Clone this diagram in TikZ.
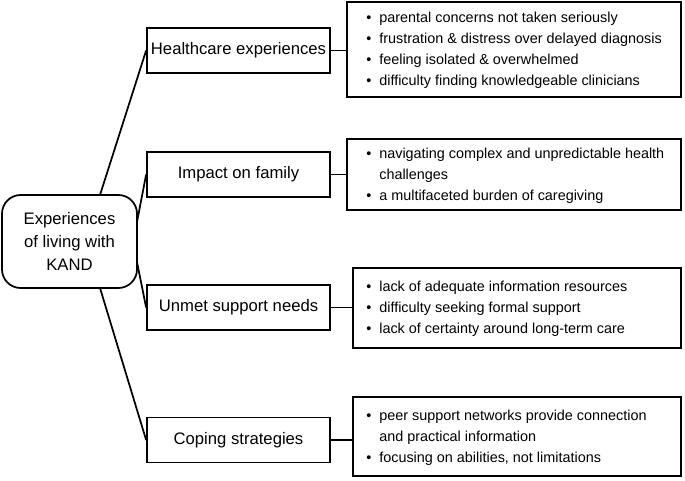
\documentclass[tikz,border=0pt]{standalone}
\usepackage{fontspec}
\setmainfont{Liberation Sans}
\begin{document}
\begin{tikzpicture}[x=0.75pt,y=-0.75pt,
  box/.style={draw,line width=1.3pt},
  cat/.style={box,minimum width=183*0.75pt,minimum height=45*0.75pt,font=\fontsize{12.5}{15}\selectfont,inner sep=0pt},
  ln/.style={line width=1.3pt}]
\useasboundingbox (0,0) rectangle (685,481);
\node[box,rounded corners=14pt,minimum width=135*0.75pt,minimum height=93*0.75pt,align=center,font=\fontsize{12.5}{17}\selectfont,inner sep=0pt] (root) at (69.5,241.5) {Experiences\\of living with\\KAND};
\node[cat] (c1) at (238.5,50.5) {Healthcare experiences};
\node[cat] (c2) at (238.5,174.5) {Impact on family};
\node[cat] (c3) at (238.5,307.5) {Unmet support needs};
\node[cat] (c4) at (238.5,440) {Coping strategies};
\newcommand{\lrow}[1]{\textbullet & #1\\}
\def\lfont{\fontsize{10.8}{15.8}\selectfont}
\draw[box] (347,2) rectangle (681,97);
\node[anchor=west,align=left,inner sep=0pt] (t1) at (366,50) {\lfont\begin{tabular}{@{}l@{\hspace{6pt}}l@{}}\lrow{parental concerns not taken seriously}\lrow{frustration \& distress over delayed diagnosis}\lrow{feeling isolated \& overwhelmed}\lrow{difficulty finding knowledgeable clinicians}\end{tabular}};
\draw[box] (347,139) rectangle (681,210);
\node[anchor=west,align=left,inner sep=0pt] (t2) at (366,175) {\lfont\begin{tabular}{@{}l@{\hspace{6pt}}l@{}}\lrow{navigating complex and unpredictable health}& challenges\\\lrow{a multifaceted burden of caregiving}\end{tabular}};
\draw[box] (353,268) rectangle (681,348);
\node[anchor=west,align=left,inner sep=0pt] (t3) at (366,308) {\lfont\begin{tabular}{@{}l@{\hspace{6pt}}l@{}}\lrow{lack of adequate information resources}\lrow{difficulty seeking formal support}\lrow{lack of certainty around long-term care}\end{tabular}};
\draw[box] (353,397) rectangle (681,476);
\node[anchor=west,align=left,inner sep=0pt] (t4) at (366,437) {\lfont\begin{tabular}{@{}l@{\hspace{6pt}}l@{}}\lrow{peer support networks provide connection}& and practical information\\\lrow{focusing on abilities, not limitations}\end{tabular}};
\coordinate (r1) at (100,195); \coordinate (r2) at (137,222);
\coordinate (r3) at (137,262); \coordinate (r4) at (100,288);
\draw[ln] (r1) -- (c1.west); \draw[ln] (r2) -- (c2.west);
\draw[ln] (r3) -- (c3.west); \draw[ln] (r4) -- (c4.west);
\coordinate (e1) at (347,50.5); \coordinate (e2) at (347,174.5);
\coordinate (e3) at (353,307.5); \coordinate (e4) at (353,440);
\draw[ln] (c1.east) -- (e1); \draw[ln] (c2.east) -- (e2);
\draw[ln] (c3.east) -- (e3); \draw[ln] (c4.east) -- (e4);
\end{tikzpicture}
\end{document}
